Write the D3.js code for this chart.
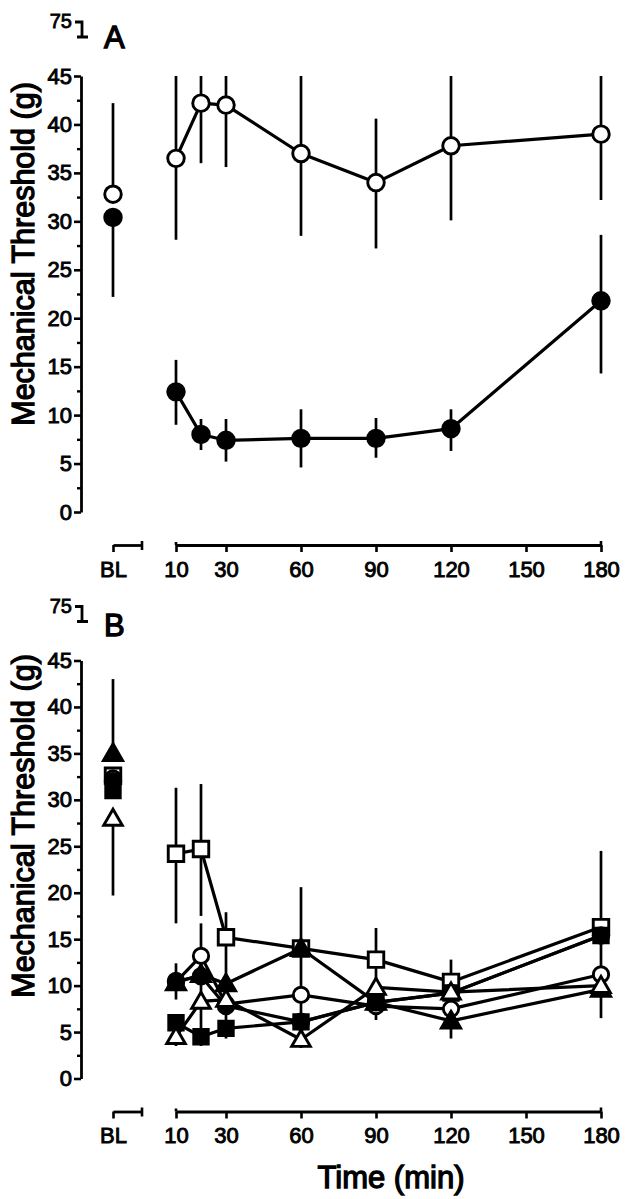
<!DOCTYPE html>
<html><head><meta charset="utf-8">
<script src="https://cdn.jsdelivr.net/npm/d3@7"></script>
<style>
body{margin:0;background:#fff}
svg{display:block}
text{font-family:"Liberation Sans",Arial,Helvetica,sans-serif;fill:#000;stroke:#000}
</style>
</head><body>
<svg id="c" width="627" height="1199"></svg>
<script>
// ---------- data ----------
const times = ["BL", 10, 20, 30, 60, 90, 120, 180];
const xTickValues = [10, 30, 60, 90, 120, 150, 180];
const yTickValues = [0, 5, 10, 15, 20, 25, 30, 35, 40, 45];
const yBreakLabel = "75";
const yTitle = "Mechanical Threshold (g)";
const xTitle = "Time (min)";

// Panel A
const aOpenMean   = [32.8, 36.5, 42.2, 42.0, 37.0, 34.0, 37.8, 39.0];
const aOpenLo     = [null, 28.1, 36.0, 35.6, 28.5, 27.2, 30.1, 32.2];
const aOpenHi     = [42.2, 45.0, 45.0, 45.0, 45.0, 40.6, 45.0, 45.0];
const aFilledMean = [30.4, 12.4, 8.0, 7.4, 7.6, 7.6, 8.6, 21.8];
const aFilledLo   = [22.2, 9.0, 6.4, 5.2, 4.6, 5.6, 6.3, 14.3];
const aFilledHi   = [null, 15.7, 9.6, 9.6, 10.6, 9.7, 10.6, 28.6];

// Panel B
const bOpenSquareMean    = [32.6, 24.2, 24.7, 15.2, 14.0, 12.8, 10.4, 16.3];
const bOpenSquareLo      = [null, 16.7, 17.5, 4.3, null, 6.3, 4.3, 6.5];
const bOpenSquareHi      = [null, 31.3, 31.7, 17.9, 20.6, 16.2, 12.8, 24.5];
const bFilledSquareMean  = [31.0, 6.0, 4.5, 5.4, 6.1, 8.2, 9.2, 15.4];
const bFilledSquareLo    = [null, null, null, null, null, null, null, null];
const bFilledSquareHi    = [null, null, null, null, null, null, null, null];
const bOpenCircleMean    = [32.3, 10.4, 13.2, 8.0, 9.0, 7.8, 7.5, 11.2];
const bOpenCircleLo      = [null, null, 3.5, null, null, null, null, null];
const bOpenCircleHi      = [null, null, 16.7, null, null, null, null, null];
const bFilledCircleMean  = [32.0, 10.5, 11.0, 7.8, 6.1, 8.2, 9.2, 15.4];
const bFilledCircleLo    = [null, 8.5, null, null, null, null, null, null];
const bFilledCircleHi    = [null, 12.4, null, null, null, null, null, null];
const bOpenTriangleMean  = [28.0, 4.5, 8.3, 8.5, 4.2, 9.8, 9.3, 10.0];
const bOpenTriangleLo    = [19.7, 3.5, null, null, 3.3, null, null, null];
const bOpenTriangleHi    = [null, null, null, null, null, null, null, null];
const bFilledTriangleMean= [35.0, 10.3, 11.2, 10.2, 14.0, 8.2, 6.2, 9.6];
const bFilledTriangleLo  = [null, null, null, null, 3.3, null, null, null];
const bFilledTriangleHi  = [43.0, null, null, null, null, null, null, null];

// ---------- layout ----------
const svg = d3.select("#c");
const x = d3.scaleLinear().domain([10, 180]).range([176, 601]);
const xBL = d3.scalePoint().domain(["BL", "end"]).range([113, 142]);
const px = t => t === "BL" ? xBL("BL") : x(t);
const axisX = 81;

const panels = [
  {label: "A", range: [512, 76], axisY: 545, labelBase: 48, titleCenter: 254, showTime: false,
   series: [
     {mean: aFilledMean, lo: aFilledLo, hi: aFilledHi, shape: d3.symbolCircle, fill: "#000", size: 215},
     {mean: aOpenMean, lo: aOpenLo, hi: aOpenHi, shape: d3.symbolCircle, fill: "#fff", size: 215}
   ]},
  {label: "B", range: [1078.5, 660.5], axisY: 1111.5, labelBase: 636, titleCenter: 826, showTime: true,
   series: [
     {mean: bOpenSquareMean, lo: bOpenSquareLo, hi: bOpenSquareHi, shape: d3.symbolSquare, fill: "#fff", size: 240},
     {mean: bOpenCircleMean, lo: bOpenCircleLo, hi: bOpenCircleHi, shape: d3.symbolCircle, fill: "#fff", size: 185},
     {mean: bFilledCircleMean, lo: bFilledCircleLo, hi: bFilledCircleHi, shape: d3.symbolCircle, fill: "#000", size: 190},
     {mean: bFilledSquareMean, lo: bFilledSquareLo, hi: bFilledSquareHi, shape: d3.symbolSquare, fill: "#000", size: 210},
     {mean: bFilledTriangleMean, lo: bFilledTriangleLo, hi: bFilledTriangleHi, shape: d3.symbolTriangle, fill: "#000", size: 160},
     {mean: bOpenTriangleMean, lo: bOpenTriangleLo, hi: bOpenTriangleHi, shape: d3.symbolTriangle, fill: "#fff", size: 150}
   ]}
];

panels.forEach(p => {
  const y = d3.scaleLinear().domain([0, 45]).range(p.range);
  const g = svg.append("g");

  // y axis
  const ya = g.append("g").attr("transform", `translate(${axisX},0)`)
    .call(d3.axisLeft(y).tickValues(yTickValues).tickSize(7).tickSizeOuter(0).tickPadding(2));
  ya.select(".domain").attr("stroke", "#000").attr("stroke-width", 2.8);
  ya.selectAll(".tick line").attr("stroke", "#000").attr("stroke-width", 2.6);
  ya.selectAll(".tick text").attr("font-size", 22).attr("font-family", null).attr("stroke-width", 0.9);
  // minor ticks
  g.append("g").attr("transform", `translate(${axisX},0)`)
    .call(d3.axisLeft(y).tickValues(d3.range(2.5, 45, 5)).tickSize(4).tickFormat(""))
    .call(s => s.select(".domain").remove())
    .selectAll(".tick line").attr("stroke", "#000").attr("stroke-width", 2.4);

  // axis break to 75
  const y75 = y(45) - 54;
  g.append("path")
    .attr("d", `M${axisX - 6},${y75}H${axisX + 1}V${y75 + 15}M${axisX - 4},${y75 + 15}H${axisX + 7}`)
    .attr("fill", "none").attr("stroke", "#000").attr("stroke-width", 2.8);
  g.append("text").attr("x", axisX - 9).attr("y", y75 + 6).attr("text-anchor", "end")
    .attr("font-size", 20).attr("stroke-width", 0.8).text(yBreakLabel);

  // panel letter
  g.append("text").attr("x", 104).attr("y", p.labelBase).attr("font-size", 31)
    .attr("stroke-width", 1.3).text(p.label);

  // y title
  g.append("text").attr("transform", `translate(34,${p.titleCenter}) rotate(-90)`)
    .attr("text-anchor", "middle").attr("font-size", 30.5).attr("stroke-width", 1.3).text(yTitle);

  // x axis (main)
  const xa = g.append("g").attr("transform", `translate(0,${p.axisY})`)
    .call(d3.axisBottom(x).tickValues(xTickValues).tickSize(7).tickSizeOuter(0).tickPadding(9));
  xa.select(".domain").attr("stroke", "#000").attr("stroke-width", 2.8);
  xa.selectAll(".tick line").attr("stroke", "#000").attr("stroke-width", 2.6);
  xa.selectAll(".tick text").attr("font-size", 22).attr("font-family", null).attr("stroke-width", 0.9);
  g.append("path").attr("d", `M${x(10)},${p.axisY - 3}V${p.axisY}M${x(180)},${p.axisY - 4}V${p.axisY}`)
    .attr("stroke", "#000").attr("stroke-width", 2.6);

  // BL bracket
  const xb = g.append("g").attr("transform", `translate(0,${p.axisY})`)
    .call(d3.axisBottom(xBL).tickValues(["BL"]).tickSize(7).tickSizeOuter(0).tickPadding(9));
  xb.select(".domain").attr("stroke", "#000").attr("stroke-width", 2.8);
  xb.selectAll(".tick line").attr("stroke", "#000").attr("stroke-width", 2.6);
  xb.selectAll(".tick text").attr("font-size", 22).attr("font-family", null).attr("stroke-width", 0.9);
  g.append("path").attr("d", `M${xBL("end")},${p.axisY - 4}V${p.axisY + 5}`)
    .attr("stroke", "#000").attr("stroke-width", 2.6);

  if (p.showTime) {
    g.append("text").attr("x", 391).attr("y", 1188).attr("text-anchor", "middle")
      .attr("font-size", 31).attr("stroke-width", 1.3).text(xTitle);
  }

  // error bars
  p.series.forEach(s => {
    times.forEach((t, i) => {
      const m = s.mean[i];
      [s.lo[i], s.hi[i]].forEach(e => {
        if (e == null) return;
        g.append("line").attr("x1", px(t)).attr("x2", px(t))
          .attr("y1", y(m)).attr("y2", y(e))
          .attr("stroke", "#000").attr("stroke-width", 2.7);
      });
    });
  });

  // lines (BL not connected)
  const line = d3.line().x(d => px(d.t)).y(d => y(d.v));
  p.series.forEach(s => {
    const pts = times.map((t, i) => ({t, v: s.mean[i]})).filter(d => d.t !== "BL");
    g.append("path").attr("d", line(pts)).attr("fill", "none")
      .attr("stroke", "#000").attr("stroke-width", 3.2).attr("stroke-linejoin", "round");
  });

  // markers
  p.series.forEach(s => {
    const sym = d3.symbol().type(s.shape).size(s.size);
    times.forEach((t, i) => {
      const dy = s.shape === d3.symbolTriangle ? 1.5 : 0;
      g.append("path").attr("d", sym())
        .attr("transform", `translate(${px(t)},${y(s.mean[i]) + dy})`)
        .attr("fill", s.fill).attr("stroke", "#000").attr("stroke-width", 2.9);
    });
  });
});
</script>
</body></html>
